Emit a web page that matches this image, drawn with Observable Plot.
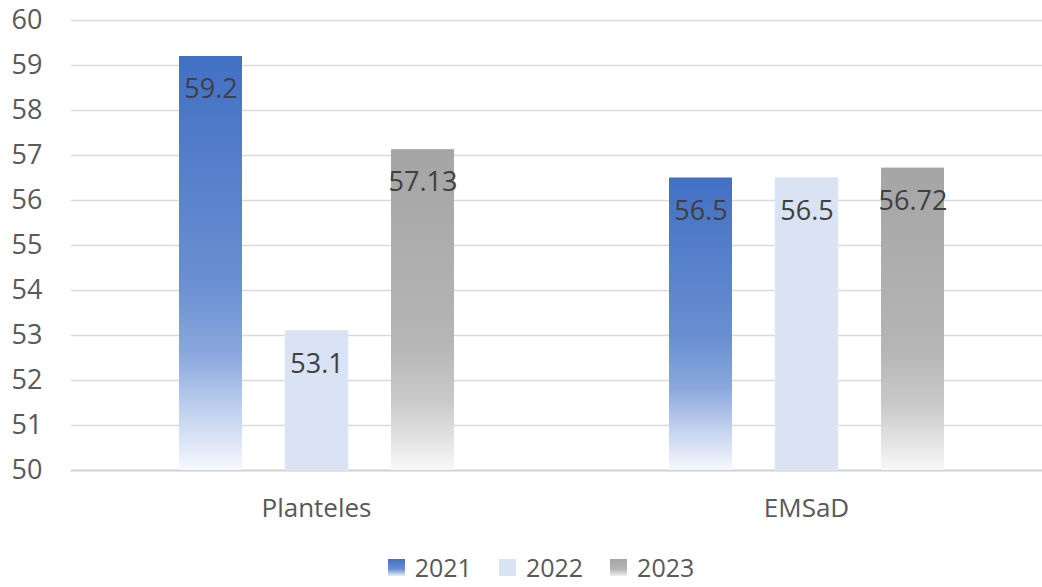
<!DOCTYPE html>
<html>
<head>
<meta charset="utf-8">
<script src="https://cdn.jsdelivr.net/npm/d3@7"></script>
<script src="https://cdn.jsdelivr.net/npm/@observablehq/plot@0.6"></script>
<style>
  html, body { margin: 0; padding: 0; background: #ffffff; overflow: hidden; }
  #chart { width: 1042px; height: 587px; position: relative; font-family: "Open Sans", "Noto Sans", sans-serif; }
  #legend { position: absolute; left: 0; top: 552px; height: 30px; line-height: 30px; width: 1042px; display: flex; justify-content: center; align-items: center; gap: 27px; padding-left: 40px; box-sizing: border-box; font-size: 25px; color: #595959; }
  .item { display: flex; align-items: center; gap: 10px; }
  .sw { width: 17px; height: 17px; display: inline-block; }
</style>
</head>
<body>
<div id="chart"></div>
<script>
const categories = ["Planteles", "EMSaD"];
const years = ["2021", "2022", "2023"];
const values2021 = [59.2, 56.5];
const values2022 = [53.1, 56.5];
const values2023 = [57.13, 56.72];
const yTicks = [50, 51, 52, 53, 54, 55, 56, 57, 58, 59, 60];
const baseline = 50;

const seriesValues = {"2021": values2021, "2022": values2022, "2023": values2023};
const data = [];
categories.forEach((c, i) => years.forEach(y => data.push({category: c, year: y, value: seriesValues[y][i]})));

const fills = {"2021": "url(#g2021)", "2022": "#dae3f3", "2023": "url(#g2023)"};

const marks = [
  Plot.ruleY(yTicks.slice(1), {stroke: "#d9d9d9", strokeWidth: 1.5}),
  Plot.ruleY([baseline], {stroke: "#d0d0d0", strokeWidth: 2}),
];
years.forEach(yr => {
  marks.push(Plot.rectY(data.filter(d => d.year === yr), {
    fx: "category", x: "year", y1: () => baseline, y2: "value",
    fill: fills[yr], stroke: yr === "2022" ? "#e4ebf7" : "none", strokeWidth: 1
  }));
});
marks.push(Plot.text(data, {
  fx: "category", x: "year", y: "value", text: d => String(d.value),
  dy: 33, fill: "#404040", fontSize: 27
}));

const svg = Plot.plot({
  width: 1042,
  height: 545,
  marginLeft: 71,
  marginRight: -9,
  marginTop: 20,
  marginBottom: 75,
  style: {fontFamily: "'Open Sans', 'Noto Sans', sans-serif", background: "transparent"},
  fx: {domain: categories, padding: 0, label: null, axis: "bottom", tickSize: 0, tickPadding: 28, fontSize: 26},
  x: {domain: years, paddingInner: 0.41, paddingOuter: 1.0, axis: null, label: null},
  y: {domain: [50, 60], ticks: yTicks, tickSize: 0, tickPadding: 29, label: null, tickFormat: d => String(d)},
  marks
});
svg.querySelectorAll("g[aria-label='y-axis tick label'], g[aria-label='fx-axis tick label']").forEach(g => {
  g.setAttribute("font-size", g.getAttribute("aria-label").startsWith("y") ? 27 : 26);
  g.setAttribute("fill", "#595959");
});

const ns = "http://www.w3.org/2000/svg";
const defs = document.createElementNS(ns, "defs");
function grad(id, stops) {
  const g = document.createElementNS(ns, "linearGradient");
  g.setAttribute("id", id);
  g.setAttribute("x1", "0"); g.setAttribute("y1", "0"); g.setAttribute("x2", "0"); g.setAttribute("y2", "1");
  stops.forEach(([o, c]) => {
    const s = document.createElementNS(ns, "stop");
    s.setAttribute("offset", o); s.setAttribute("stop-color", c);
    g.appendChild(s);
  });
  defs.appendChild(g);
}
grad("g2021", [[0, "#4270c4"], [0.55, "#6a8fd2"], [0.72, "#8aa8de"], [0.86, "#c2d2ef"], [1, "#f6f8fd"]]);
grad("g2023", [[0, "#a5a5a5"], [0.6, "#b5b5b5"], [0.78, "#c9c9c9"], [0.9, "#e2e2e2"], [1, "#f8f8f8"]]);
svg.insertBefore(defs, svg.firstChild);

const chart = document.getElementById("chart");
chart.appendChild(svg);

const legend = document.createElement("div");
legend.id = "legend";
const legendBg = {
  "2021": "linear-gradient(#4270c4, #6a8fd2 60%, #e8eefa)",
  "2022": "#dae3f3",
  "2023": "linear-gradient(#a5a5a5, #b5b5b5 60%, #f0f0f0)"
};
years.forEach(yr => {
  const it = document.createElement("div");
  it.className = "item";
  const sw = document.createElement("span");
  sw.className = "sw";
  sw.style.background = legendBg[yr];
  const t = document.createElement("span");
  t.textContent = yr;
  it.appendChild(sw); it.appendChild(t);
  legend.appendChild(it);
});
chart.appendChild(legend);
</script>
</body>
</html>
